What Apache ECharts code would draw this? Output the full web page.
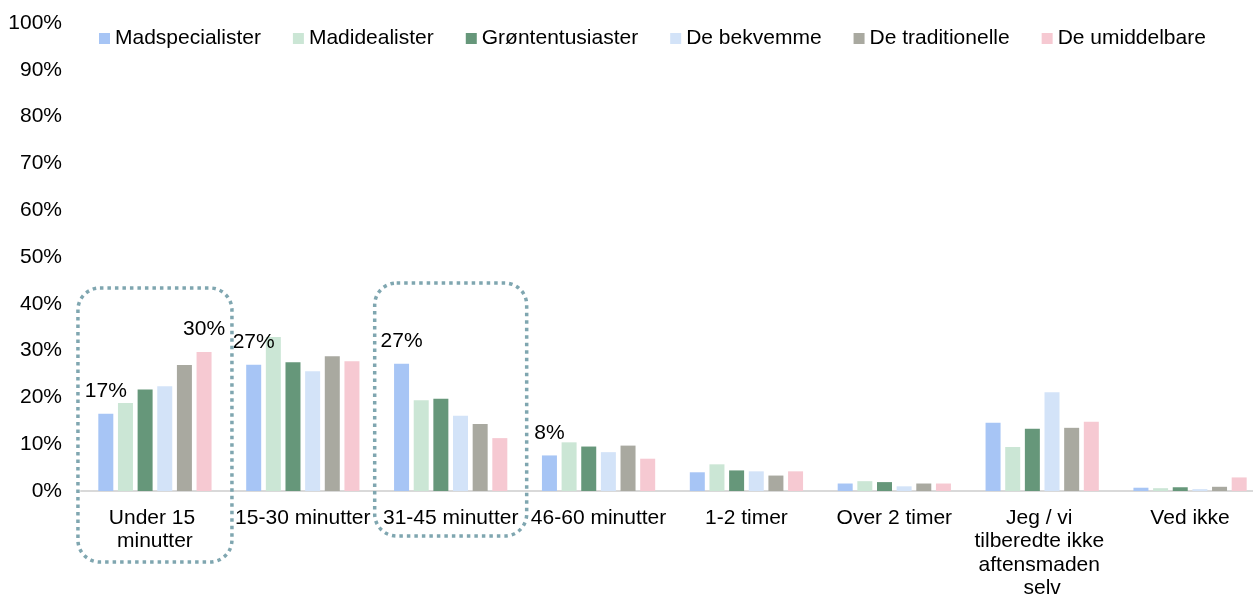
<!DOCTYPE html>
<html>
<head>
<meta charset="utf-8">
<script src="https://cdn.jsdelivr.net/npm/echarts@6/dist/echarts.min.js"></script>
<style>
  html, body { margin: 0; padding: 0; background: #fff; }
  #chart { width: 1253px; height: 596px; }
</style>
</head>
<body>
<div id="chart"></div>
<script>
const categories = ['Under 15 minutter', '15-30 minutter', '31-45 minutter', '46-60 minutter',
  '1-2 timer', 'Over 2 timer', 'Jeg / vi tilberedte ikke aftensmaden selv', 'Ved ikke']

const seriesNames = ['Madspecialister', 'Madidealister', 'Grøntentusiaster', 'De bekvemme', 'De traditionelle', 'De umiddelbare']
const seriesColors = ['#a7c5f5', '#cbe6d5', '#66977a', '#d3e3f8', '#a9a9a0', '#f6c9d2']

const madspecialister = [16.5, 27.0, 27.2, 7.6, 4.0, 1.6, 14.6, 0.7]
const madidealister = [18.8, 32.9, 19.4, 10.4, 5.7, 2.1, 9.4, 0.6]
const groententusiaster = [21.7, 27.5, 19.7, 9.5, 4.4, 1.9, 13.3, 0.8]
const bekvemme = [22.4, 25.6, 16.1, 8.3, 4.2, 1.0, 21.1, 0.4]
const traditionelle = [26.9, 28.8, 14.3, 9.7, 3.3, 1.6, 13.5, 0.9]
const umiddelbare = [29.7, 27.7, 11.3, 6.9, 4.2, 1.6, 14.8, 2.9]

// which points carry a value label: [series index, category index]
const labelledPoints = [[0, 0], [0, 1], [0, 2], [0, 3], [5, 0]]

// categories that get a dotted box around them
const highlighted = [0, 2]

const allValues = [madspecialister, madidealister, groententusiaster, bekvemme, traditionelle, umiddelbare]

const FONT = 'Liberation Sans, Arial, sans-serif'
const FS = 21

const chart = echarts.init(document.getElementById('chart'))

const series = allValues.map((vals, s) => ({
  name: seriesNames[s],
  type: 'bar',
  barWidth: 15,
  barGap: '31%',
  itemStyle: { color: seriesColors[s] },
  data: vals.map((v, c) => {
    const lab = labelledPoints.some(p => p[0] === s && p[1] === c)
    return lab ? {
      value: v,
      label: {
        show: true, position: 'top', distance: 12,
        fontFamily: FONT, fontSize: FS, color: '#000',
        formatter: p => Math.round(p.value) + '%'
      }
    } : v
  })
}))

chart.setOption({
  animation: false,
  textStyle: { fontFamily: FONT },
  legend: {
    left: 94,
    top: 23,
    icon: 'rect',
    itemWidth: 11,
    itemHeight: 11,
    itemGap: 32,
    textStyle: { fontSize: FS, color: '#000' },
    data: seriesNames
  },
  grid: { left: 81, right: -11, top: 23, bottom: 105, containLabel: false, outerBoundsMode: 'none' },
  xAxis: {
    type: 'category',
    data: categories,
    axisLine: { lineStyle: { color: '#d9d9d9', width: 2 } },
    axisTick: { show: false },
    axisLabel: {
      interval: 0,
      margin: 15,
      fontSize: FS,
      color: '#000',
      lineHeight: 23.5,
      width: 142,
      overflow: 'break'
    }
  },
  yAxis: {
    type: 'value',
    min: 0,
    max: 100,
    interval: 10,
    axisLine: { show: false },
    axisTick: { show: false },
    splitLine: { show: false },
    axisLabel: { fontSize: FS, color: '#000', margin: 19, formatter: '{value}%' }
  },
  series: series
})

// dotted rounded boxes around highlighted categories
const boxSpecs = [
  { top: 288, bottom: 562, half: 77 },
  { top: 283, bottom: 536, half: 76 }
]
const graphics = highlighted.map((c, i) => {
  const cx = chart.convertToPixel({ xAxisIndex: 0 }, c)
  const b = boxSpecs[i]
  return {
    type: 'rect',
    shape: { x: cx - b.half, y: b.top, width: b.half * 2, height: b.bottom - b.top, r: 22 },
    style: { fill: 'none', stroke: '#7fa6b0', lineWidth: 3.5, lineDash: [3.5, 4] },
    z: 100
  }
})
chart.setOption({ graphic: graphics })
</script>
</body>
</html>
